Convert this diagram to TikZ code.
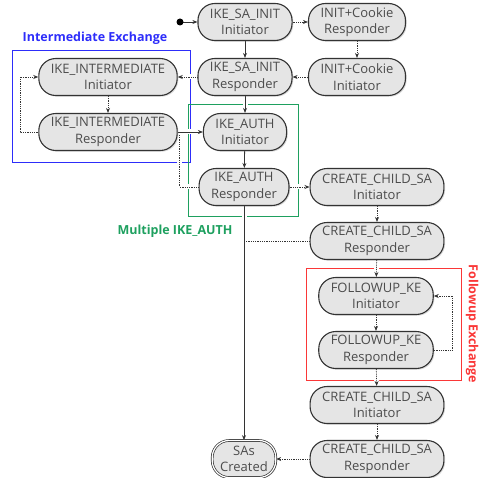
\documentclass[tikz,border=0pt]{standalone}
\usepackage{fontspec}
\setmainfont{Open Sans}
\usetikzlibrary{arrows.meta,shadows,backgrounds}

\definecolor{imblue}{RGB}{45,45,250}
\definecolor{authgreen}{RGB}{30,160,95}
\definecolor{fkred}{RGB}{250,55,55}

\begin{document}
\begin{tikzpicture}[
      x=1pt, y=-1pt,
      font=\fontsize{13}{16.5}\selectfont,
      state/.style={rectangle, rounded corners=17pt, draw=black!80, line width=1.1pt,
        fill=black!10, text=black!70, align=center, inner xsep=12pt, inner ysep=2pt,
        minimum height=37pt,
        drop shadow={opacity=0.3, shadow xshift=1.2pt, shadow yshift=-1.2pt}},
      final/.style={state, double, double distance=1.2pt, line width=0.7pt, inner xsep=8pt},
      flow/.style={draw=black!80, line width=0.8pt, -{Stealth[length=5pt,width=4pt]}},
      opt/.style={flow, densely dotted},
      halo/.style={preaction={draw=white, line width=5pt, -, solid}},
      group/.style={draw=#1, line width=0.9pt},
      grouplabel/.style={text=#1, font=\fontsize{12.5}{15}\bfseries}
    ]
    \useasboundingbox (0,0) rectangle (484,478);

    \node (sai)   [state] at (245,22)  {IKE\_SA\_INIT\\Initiator};
    \node (cookr) [state] at (357,22)  {INIT+Cookie\\Responder};
    \node (sar)   [state] at (245,77)  {IKE\_SA\_INIT\\Responder};
    \node (cooki) [state] at (357,77)  {INIT+Cookie\\Initiator};
    \node (imi)   [state] at (108,77)  {IKE\_INTERMEDIATE\\Initiator};
    \node (imr)   [state] at (108,132) {IKE\_INTERMEDIATE\\Responder};
    \node (authi) [state] at (245,132) {IKE\_AUTH\\Initiator};
    \node (authr) [state] at (244,187) {IKE\_AUTH\\Responder};
    \node (cci)   [state] at (377,187) {CREATE\_CHILD\_SA\\Initiator};
    \node (ccr)   [state] at (377,241) {CREATE\_CHILD\_SA\\Responder};
    \node (fki)   [state] at (376,296) {FOLLOWUP\_KE\\Initiator};
    \node (fkr)   [state] at (376,350) {FOLLOWUP\_KE\\Responder};
    \node (cci2)  [state] at (377,405) {CREATE\_CHILD\_SA\\Initiator};
    \node (ccr2)  [state] at (377,459) {CREATE\_CHILD\_SA\\Responder};
    \node (sas)   [final] at (244,459) {SAs\\Created};
    \coordinate (start) at (180,22);
    \fill[black] (start) circle (3.5pt);

    \node (imlabel)   [grouplabel=imblue]     at (95,38)  {Intermediate Exchange};
    \node (authlabel) [grouplabel=authgreen]  at (175,231) {Multiple IKE\_AUTH};
    \node (fklabel)   [grouplabel=fkred, rotate=-90] at (472,324) {Followup Exchange};

    \begin{pgfonlayer}{background}
      \draw[group=imblue]    (12,50) rectangle (190,162);
      \draw[group=authgreen] (188,104) rectangle (298,216);
      \draw[group=fkred]     (306,268) rectangle (461,380);

      \draw[flow] (start) -- (sai);
      \draw[opt] (sai) -- (cookr);
      \draw[opt] (cookr) -- (cooki);
      \draw[opt] (cooki) -- (sar);
      \draw[flow] (sai) -- (sar);
      \draw[opt, halo] (sar) -- (imi);
      \draw[flow, halo] (sar) -- (authi);
      \draw[opt] (imi) -- (imr);
      \draw[opt] (imr.west) -- ++(-18,0) |- (imi.west);
      \draw[opt, halo] (authr.west) -- ++(-19,0) |- (authi.west);
      \draw[flow, halo] (imr) -- (authi);
      \draw[flow] (authi) -- (authr);
      \draw[opt, halo] (authr) -- (cci);
      \draw[flow, halo] (authr) -- (sas);
      \draw[opt] (cci) -- (ccr);
      \draw[opt, -] (ccr.west) -- (authr |- ccr);
      \draw[opt, halo] (ccr) -- (fki);
      \draw[opt] (fki) -- (fkr);
      \draw[opt] (fkr.east) -- ++(19,0) |- (fki.east);
      \draw[opt, halo] (fkr) -- (cci2);
      \draw[opt] (cci2) -- (ccr2);
      \draw[opt] (ccr2) -- (sas);
    \end{pgfonlayer}
  \end{tikzpicture}
\end{document}
